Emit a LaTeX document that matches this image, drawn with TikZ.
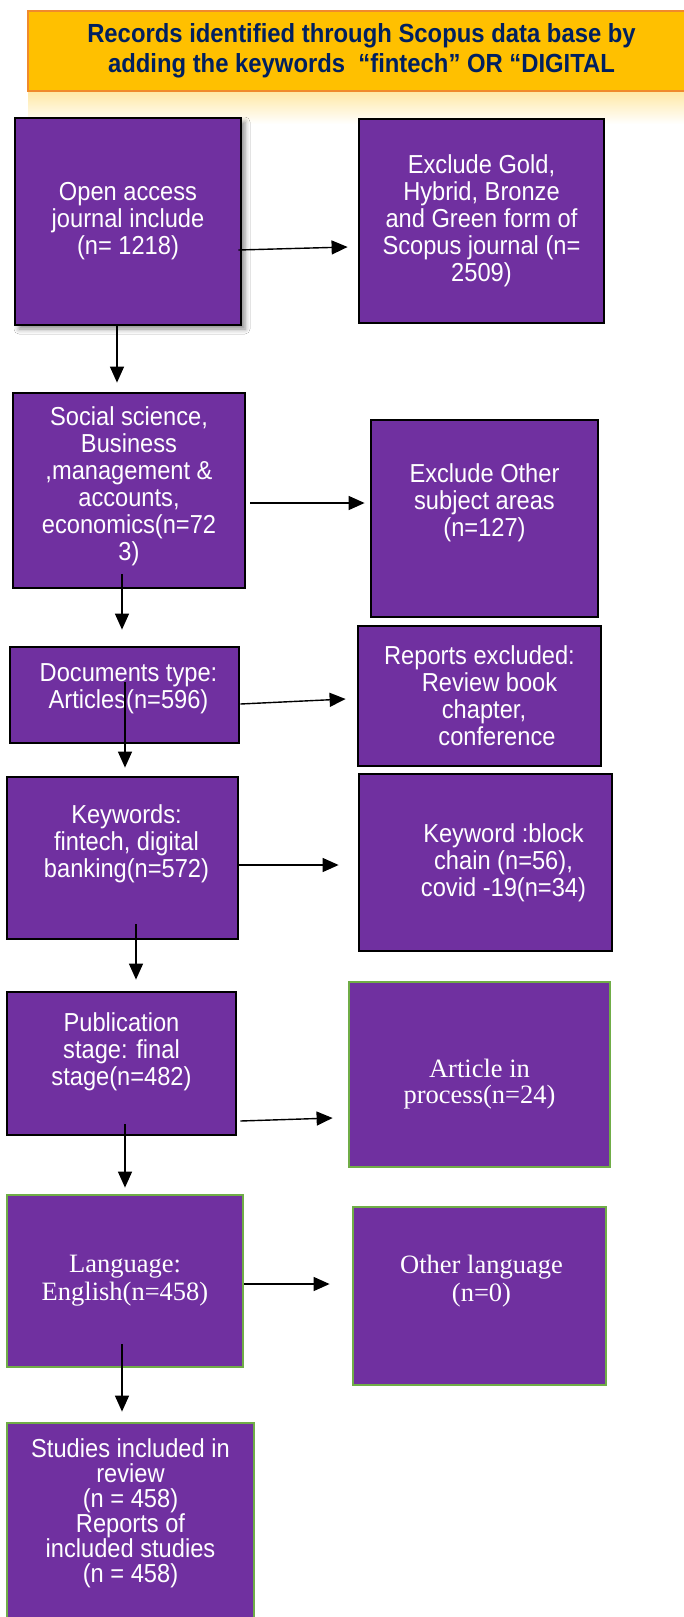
\documentclass[tikz,border=0pt]{standalone}
\usepackage{fontspec}
\newfontfamily\arialfont[FakeStretch=0.91]{Liberation Sans}
\newfontfamily\timesfont{Liberation Serif}
\usetikzlibrary{arrows.meta, positioning, calc, shadows, shadows.blur}
\definecolor{boxpurple}{HTML}{7030A0}
\definecolor{framegreen}{HTML}{70AD47}
\definecolor{hdrfill}{HTML}{FFC000}
\definecolor{hdrline}{HTML}{F08A2C}
\definecolor{hdrtext}{HTML}{002060}
\tikzset{
  box/.style = {rectangle, inner sep=0pt, fill=boxpurple, line width=2.8pt},
  box_k/.style = {box, draw=black},% cadre noir
  box_g/.style = {box, draw=framegreen},% cadre vert
  txt_s/.style = {text=white, align=center,
    font=\arialfont\fontsize{26}{27}\selectfont},% texte sans serif
  txt_r/.style = {text=white, align=center,
    font=\timesfont\fontsize{26.5}{28}\selectfont},% texte serif
  hdr/.style = {rectangle, fill=hdrfill, draw=hdrline, line width=2pt,
    text=hdrtext, align=center,
    font=\arialfont\bfseries\fontsize{26.2}{30}\selectfont},
  flow/.style = {-{Triangle[length=16pt, width=14pt]}, line width=1.4pt}
}
\begin{document}
\begin{tikzpicture}[x=1pt, y=-1pt]
\useasboundingbox (0,0) rectangle (684,1617);
\clip (0,0) rectangle (684,1617);
\fill[white] (0,0) rectangle (684,1617);
% header + reflet
\shade[top color=hdrfill!35, bottom color=white] (28,92) rectangle (684,124);
\node [hdr, minimum width=667pt, minimum height=80pt] (head) at (361.5,51)
  {Records identified through Scopus data base by\\adding the keywords\ \ “fintech” OR “DIGITAL};
% colonne gauche
\node [box_k, minimum width=226pt, minimum height=207pt,
  blur shadow={shadow xshift=4pt, shadow yshift=-4pt, shadow blur radius=5pt, shadow opacity=45}] (open) at (128,221.5) {};
\node [txt_s] (open_t) at (open) {Open access\\journal include\\(n= 1218)};
\node [box_k, minimum width=232pt, minimum height=195pt] (social) at (129,490.5) {};
\node [txt_s, yshift=4pt] (social_t) at (social) {Social science,\\Business\\,management \&\\accounts,\\economics(n=72\\3)};
\node [box_k, minimum width=229pt, minimum height=96pt] (doc) at (124.5,695) {};
\node [txt_s, xshift=4pt, yshift=6pt] (doc_t) at (doc) {Documents type:\\Articles(n=596)};
\node [box_k, minimum width=231pt, minimum height=162pt] (kw) at (122.5,858) {};
\node [txt_s, xshift=4pt, yshift=14pt] (kw_t) at (kw) {Keywords:\\fintech, digital\\banking(n=572)};
\node [box_k, minimum width=229pt, minimum height=143pt] (pub) at (121.5,1063.5) {};
\node [txt_s, yshift=12pt] (pub_t) at (pub) {Publication\\stage: final\\stage(n=482)};
\node [box_g, minimum width=236pt, minimum height=172pt] (lang) at (125,1281) {};
\node [txt_r] (lang_t) at (lang) {Language:\\English(n=458)};
\node [box_g, minimum width=247pt, minimum height=217pt] (incl) at (130.5,1531.5) {};
\node [txt_s, font=\arialfont\fontsize{26}{25}\selectfont] (incl_t) at (130.5,1513)
  {Studies included in\\review\\(n = 458)\\Reports of\\included studies\\(n = 458)};
% colonne droite (exclusions)
\node [box_k, minimum width=245pt, minimum height=204pt] (gold) at (481.5,221) {};
\node [txt_s] (gold_t) at (gold) {Exclude Gold,\\Hybrid, Bronze\\and Green form of\\Scopus journal (n=\\2509)};
\node [box_k, minimum width=227pt, minimum height=197pt] (subj) at (484.5,518.5) {};
\node [txt_s, yshift=16pt] (subj_t) at (subj) {Exclude Other\\subject areas\\(n=127)};
\node [box_k, minimum width=243pt, minimum height=140pt] (rep) at (479.5,696) {};
\node [txt_s] (rep_t) at (rep) {Reports excluded:\\\hspace*{20pt}Review book\\\hspace*{9pt}chapter,\\\hspace*{35pt}conference};
\node [box_k, minimum width=253pt, minimum height=177pt] (kwx) at (485.5,862.5) {};
\node [txt_s, xshift=18pt] (kwx_t) at (kwx) {Keyword :block\\chain (n=56),\\covid -19(n=34)};
\node [box_g, minimum width=261pt, minimum height=185pt] (proc) at (479.5,1074.5) {};
\node [txt_r, yshift=-10pt, font=\timesfont\fontsize{26.5}{26}\selectfont] (proc_t) at (proc) {Article in\\process(n=24)};
\node [box_g, minimum width=253pt, minimum height=178pt] (other) at (479.5,1296) {};
\node [txt_r, xshift=2pt, yshift=15pt] (other_t) at (other) {Other language\\(n=0)};
% fleches
\draw[flow] ($(open.east)+(-4,28.5)$) -- ($(gold.west)+(-10,26)$);
\draw[flow] ($(open.south)+(-11,0)$) -- ($(social.north)+(-12,-9)$);
\draw[flow] ($(social.east)+(4,12.5)$) -- ($(subj.west)+(-5,-15.5)$);
\draw[flow] ($(social.south)+(-7,-15)$) -- ($(doc.north)+(-2.5,-16)$);
\draw[flow] ($(doc.east)+(0,9)$) -- ($(rep.west)+(-11,3)$);
\draw[flow] ($(doc.south)+(0.5,-62)$) -- ($(kw.north)+(2.5,-8)$);
\draw[flow] ($(kw.east)+(0,7)$) -- ($(kwx.west)+(-19,2.5)$);
\draw[flow] ($(kw.south)+(13.5,-16)$) -- ($(pub.north)+(14.5,-11)$);
\draw[flow] ($(pub.east)+(3,57.5)$) -- ($(proc.west)+(-15,43.5)$);
\draw[flow] ($(pub.south)+(3.5,-12)$) -- ($(lang.north)+(0,-6)$);
\draw[flow] ($(lang.east)+(0,3)$) -- ($(other.west)+(-22,-12)$);
\draw[flow] ($(lang.south)+(-3,-24)$) -- ($(incl.north)+(-8.5,-10)$);
\end{tikzpicture}
\end{document}
